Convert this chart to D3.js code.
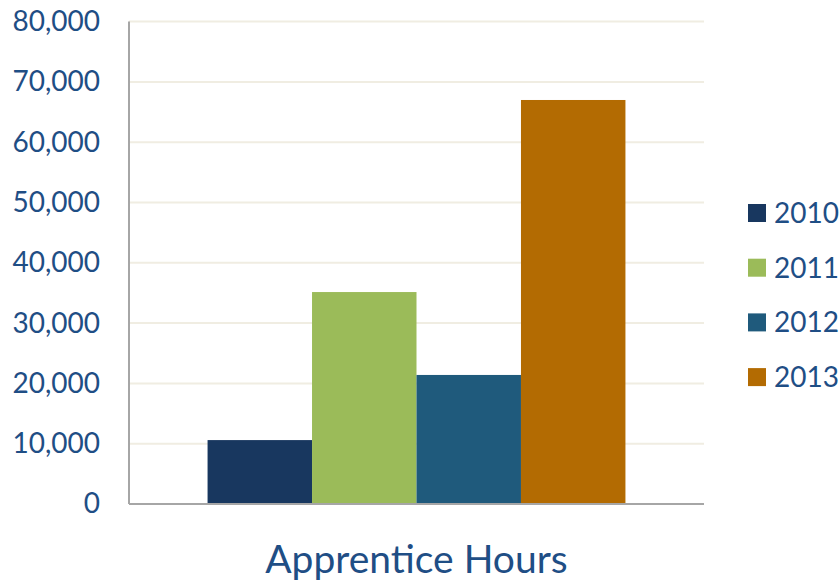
<!DOCTYPE html>
<html><head><meta charset="utf-8">
<script src="https://cdn.jsdelivr.net/npm/d3@7"></script>
<style>body{margin:0;background:#fff}svg{display:block}</style>
</head><body>
<svg id="c" width="840" height="582"></svg>
<script>
const categories = ["Apprentice Hours"];
const years = ["2010", "2011", "2012", "2013"];
const values = [10600, 35150, 21400, 67000];
const colors = ["#18375f", "#9bbb59", "#1f5a7c", "#b36b02"];
const yTicks = [0, 10000, 20000, 30000, 40000, 50000, 60000, 70000, 80000];

(function () {
const svg = d3.select("#c");
const pl = 129, pr = 704, pt = 21.6, pb = 504;
const font = "Lato, 'Open Sans', sans-serif";
const textColor = "#1f4e85";

const y = d3.scaleLinear().domain([0, 80000]).range([pb, pt]);
const x0 = d3.scaleBand().domain(categories).range([pl, pr]).paddingInner(0).paddingOuter(0.188);
const x1 = d3.scaleBand().domain(years).range([0, x0.bandwidth()]);

// gridlines
svg.append("g").selectAll("line").data(yTicks.filter(d => d > 0)).join("line")
  .attr("x1", pl).attr("x2", pr)
  .attr("y1", d => y(d)).attr("y2", d => y(d))
  .attr("stroke", "#f0ede2").attr("stroke-width", 2);

// bars
const g = svg.append("g").attr("transform", `translate(${x0(categories[0])},0)`);
g.selectAll("rect").data(years).join("rect")
  .attr("x", d => x1(d)).attr("width", x1.bandwidth())
  .attr("y", (d, i) => y(values[i])).attr("height", (d, i) => y(0) - y(values[i]))
  .attr("fill", (d, i) => colors[i]);

// axes lines
svg.append("line").attr("x1", pl).attr("x2", pl).attr("y1", pt).attr("y2", pb)
  .attr("stroke", "#a6a6a6").attr("stroke-width", 2);
svg.append("line").attr("x1", pl).attr("x2", pr).attr("y1", pb).attr("y2", pb)
  .attr("stroke", "#a6a6a6").attr("stroke-width", 2);

// y tick labels
const yAxis = d3.axisLeft(y).tickValues(yTicks).tickSize(0).tickPadding(29).tickFormat(d3.format(","));
const ya = svg.append("g").attr("transform", `translate(${pl},0)`).call(yAxis);
ya.select(".domain").remove();
ya.selectAll("text").attr("font-family", font).attr("font-size", 28).attr("fill", textColor);

// x label
svg.append("text").attr("x", x0(categories[0]) + x0.bandwidth() / 2).attr("y", 573)
  .attr("text-anchor", "middle").attr("font-family", font).attr("font-size", 39)
  .attr("fill", textColor).text(categories[0]);

// legend
const lg = svg.append("g").selectAll("g").data(years).join("g")
  .attr("transform", (d, i) => `translate(748,${213 + i * 54.7})`);
lg.append("rect").attr("x", 0).attr("y", -9).attr("width", 18).attr("height", 18)
  .attr("fill", (d, i) => colors[i]);
lg.append("text").attr("x", 26).attr("y", 0).attr("dy", "0.35em")
  .attr("font-family", font).attr("font-size", 28).attr("fill", textColor).text(d => d);
})();
</script>
</body></html>
